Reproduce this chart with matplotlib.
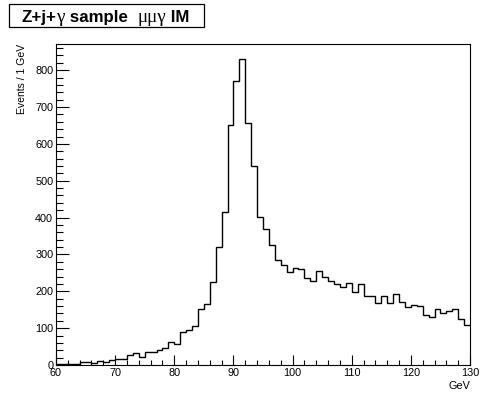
import numpy as np
import matplotlib
matplotlib.use("Agg")
import matplotlib.pyplot as plt
from matplotlib.ticker import MultipleLocator
from matplotlib.patches import Rectangle

# Bin edges: 60..130 GeV, 1 GeV bins
bin_low = 60
bin_high = 130
counts = [2, 4, 4, 3, 9, 9, 6, 11, 8, 14,
          17, 17, 26, 32, 22, 35, 35, 41, 47, 62,
          56, 90, 95, 107, 151, 165, 224, 319, 416, 651,
          771, 831, 656, 540, 401, 369, 326, 285, 270, 251,
          264, 260, 235, 229, 255, 240, 229, 219, 211, 222,
          197, 220, 187, 188, 169, 188, 167, 193, 172, 158,
          163, 161, 136, 131, 151, 140, 147, 151, 125, 109]

# title pieces: (text, is_greek)
title_parts = [("Z+j+", False), ("γ", True), (" sample  ", False), ("μμγ", True), (" IM", False)]
ylabel = "Events / 1 GeV"
xlabel = "GeV"

plt.rcParams['font.family'] = ['Liberation Sans', 'DejaVu Sans']

W, H = 482, 397
fig = plt.figure(figsize=(W / 100, H / 100), dpi=100)
ax = fig.add_axes([56 / W, (H - 365) / H, (470 - 56) / W, (365 - 44) / H])

edges = np.arange(bin_low, bin_high + 1, 1)
ax.stairs(counts, edges, color='black', linewidth=1.0, baseline=None)

ax.set_xlim(bin_low, bin_high)
ax.set_ylim(0, 871)

ax.xaxis.set_major_locator(MultipleLocator(10))
ax.xaxis.set_minor_locator(MultipleLocator(2))
ax.yaxis.set_major_locator(MultipleLocator(100))
ax.yaxis.set_minor_locator(MultipleLocator(20))

ax.tick_params(axis='both', which='both', direction='in', labelsize=7.8, width=0.8, color='black')
ax.tick_params(axis='x', which='major', length=7.2, pad=2)
ax.tick_params(axis='x', which='minor', length=3.6)
ax.tick_params(axis='y', which='major', length=9.4, pad=2)
ax.tick_params(axis='y', which='minor', length=5)
ax.tick_params(top=False, right=False, which='both')

for s in ax.spines.values():
    s.set_linewidth(0.8)
    s.set_color('black')

fig.text(22 / W, (H - 44) / H, ylabel, rotation=90, ha='center', va='top', fontsize=7.5)
fig.text(470 / W, (H - 386) / H, xlabel, ha='right', va='center', fontsize=7.8)

# title box
fig.patches.append(Rectangle((9 / W, (H - 27) / H), (204 - 9) / W, 23 / H,
                             transform=fig.transFigure, facecolor='white',
                             edgecolor='black', linewidth=0.9))
renderer = fig.canvas.get_renderer()
x = 21.5
for txt, greek in title_parts:
    if greek:
        t = fig.text(x / W, (H - 22) / H, txt, ha='left', va='baseline', fontsize=13.8,
                     family='Liberation Serif', fontweight='normal')
    else:
        t = fig.text(x / W, (H - 22) / H, txt, ha='left', va='baseline', fontsize=12.2,
                     fontweight='bold')
    bb = t.get_window_extent(renderer)
    x += bb.width

fig.savefig("out.png", dpi=100)
